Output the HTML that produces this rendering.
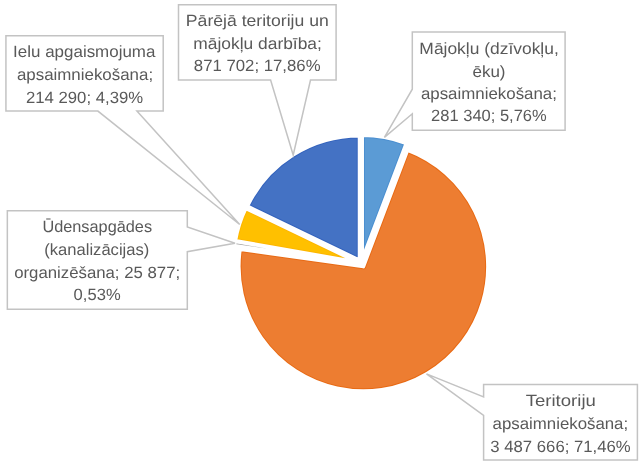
<!DOCTYPE html>
<html><head><meta charset="utf-8"><style>
html,body{margin:0;padding:0;background:#fff;}
svg{display:block;will-change:transform;}
text{text-rendering:geometricPrecision;font-family:"Liberation Sans",sans-serif;font-size:16.3px;fill:#595959;}
</style></head><body>
<svg width="643" height="466" viewBox="0 0 643 466">
<defs><clipPath id="c0"><path d="M362.16,259.81 L362.16,135.21 A124.6,124.6 0 0 1 406.30,143.29 Z"/></clipPath><clipPath id="c1"><path d="M363.36,266.54 L407.51,150.02 A124.6,124.6 0 1 1 239.97,249.22 Z"/></clipPath><clipPath id="c2"><path d="M357.89,262.83 L234.50,245.51 A124.6,124.6 0 0 1 235.15,241.41 Z"/></clipPath><clipPath id="c3"><path d="M358.02,262.28 L235.28,240.86 A124.6,124.6 0 0 1 245.76,208.24 Z"/></clipPath><clipPath id="c4"><path d="M359.56,260.31 L247.29,206.26 A124.6,124.6 0 0 1 359.56,135.71 Z"/></clipPath></defs>
<rect width="643" height="466" fill="#fff"/>
<polygon points="178.5,4.8 336.1,4.8 336.1,80.1 310.5,80.1 293.2,155.0 270.6,80.1 178.5,80.1" fill="#fff"/>
<polygon points="5.93,35.8 163.2,35.8 163.2,111.1 136.9,111.1 239.7,224.5 97.9,111.1 5.93,111.1" fill="#fff"/>
<polygon points="412.3,31.9 565.1,31.9 565.1,130.2 412.3,130.2 412.3,113.8 384.4,137.4 412.3,89.2" fill="#fff"/>
<polygon points="7.34,210.7 187.3,210.7 187.3,227.0 235.0,243.3 187.3,251.7 187.3,309.3 7.34,309.3" fill="#fff"/>
<polygon points="483.6,384.6 637.4,384.6 637.4,460.0 483.6,460.0 483.6,415.5 426.5,373.9 483.6,396.9" fill="#fff"/>
<path d="M362.16,259.81 L362.16,135.21 A124.6,124.6 0 0 1 406.30,143.29 Z" fill="#5B9BD5"/>
<path d="M362.16,259.81 L362.16,135.21 A124.6,124.6 0 0 1 406.30,143.29 Z" fill="none" stroke="#4B8FD0" stroke-width="5.66" stroke-linejoin="round" clip-path="url(#c0)"/>
<path d="M362.16,259.81 L362.16,135.21 A124.6,124.6 0 0 1 406.30,143.29 Z" fill="none" stroke="#fff" stroke-width="3.66" stroke-linejoin="round"/>
<path d="M363.36,266.54 L407.51,150.02 A124.6,124.6 0 1 1 239.97,249.22 Z" fill="#ED7D31"/>
<path d="M363.36,266.54 L407.51,150.02 A124.6,124.6 0 1 1 239.97,249.22 Z" fill="none" stroke="#E86A14" stroke-width="5.66" stroke-linejoin="round" clip-path="url(#c1)"/>
<path d="M363.36,266.54 L407.51,150.02 A124.6,124.6 0 1 1 239.97,249.22 Z" fill="none" stroke="#fff" stroke-width="3.66" stroke-linejoin="round"/>
<path d="M357.89,262.83 L234.50,245.51 A124.6,124.6 0 0 1 235.15,241.41 Z" fill="#A5A5A5"/>
<path d="M357.89,262.83 L234.50,245.51 A124.6,124.6 0 0 1 235.15,241.41 Z" fill="none" stroke="#fff" stroke-width="3.2" stroke-linejoin="round"/>
<path d="M358.02,262.28 L235.28,240.86 A124.6,124.6 0 0 1 245.76,208.24 Z" fill="#FFC000"/>
<path d="M358.02,262.28 L235.28,240.86 A124.6,124.6 0 0 1 245.76,208.24 Z" fill="none" stroke="#FDB600" stroke-width="5.66" stroke-linejoin="round" clip-path="url(#c3)"/>
<path d="M358.02,262.28 L235.28,240.86 A124.6,124.6 0 0 1 245.76,208.24 Z" fill="none" stroke="#fff" stroke-width="3.66" stroke-linejoin="round"/>
<path d="M359.56,260.31 L247.29,206.26 A124.6,124.6 0 0 1 359.56,135.71 Z" fill="#4472C4"/>
<path d="M359.56,260.31 L247.29,206.26 A124.6,124.6 0 0 1 359.56,135.71 Z" fill="none" stroke="#3463BD" stroke-width="5.66" stroke-linejoin="round" clip-path="url(#c4)"/>
<path d="M359.56,260.31 L247.29,206.26 A124.6,124.6 0 0 1 359.56,135.71 Z" fill="none" stroke="#fff" stroke-width="3.66" stroke-linejoin="round"/>
<polygon points="178.5,4.8 336.1,4.8 336.1,80.1 310.5,80.1 293.2,155.0 270.6,80.1 178.5,80.1" fill="none" stroke="#C3C3C3" stroke-width="1.5" stroke-linejoin="miter" stroke-miterlimit="4"/>
<polygon points="5.93,35.8 163.2,35.8 163.2,111.1 136.9,111.1 239.7,224.5 97.9,111.1 5.93,111.1" fill="none" stroke="#C3C3C3" stroke-width="1.5" stroke-linejoin="miter" stroke-miterlimit="4"/>
<polygon points="412.3,31.9 565.1,31.9 565.1,130.2 412.3,130.2 412.3,113.8 384.4,137.4 412.3,89.2" fill="none" stroke="#C3C3C3" stroke-width="1.5" stroke-linejoin="miter" stroke-miterlimit="4"/>
<polygon points="7.34,210.7 187.3,210.7 187.3,227.0 235.0,243.3 187.3,251.7 187.3,309.3 7.34,309.3" fill="none" stroke="#C3C3C3" stroke-width="1.5" stroke-linejoin="miter" stroke-miterlimit="4"/>
<polygon points="483.6,384.6 637.4,384.6 637.4,460.0 483.6,460.0 483.6,415.5 426.5,373.9 483.6,396.9" fill="none" stroke="#C3C3C3" stroke-width="1.5" stroke-linejoin="miter" stroke-miterlimit="4"/>
<text x="185.88" y="25.6" textLength="142.9" lengthAdjust="spacingAndGlyphs">Pārējā teritoriju un</text>
<text x="193.34" y="48.6" textLength="128.5" lengthAdjust="spacingAndGlyphs">mājokļu darbība;</text>
<text x="193.85" y="71.4" textLength="126.7" lengthAdjust="spacingAndGlyphs">871 702; 17,86%</text>
<text x="13.13" y="56.8" textLength="142.3" lengthAdjust="spacingAndGlyphs">Ielu apgaismojuma</text>
<text x="16.92" y="79.8" textLength="136.2" lengthAdjust="spacingAndGlyphs">apsaimniekošana;</text>
<text x="25.94" y="102.7" textLength="117.2" lengthAdjust="spacingAndGlyphs">214 290; 4,39%</text>
<text x="419.38" y="53.7" textLength="139.4" lengthAdjust="spacingAndGlyphs">Mājokļu (dzīvokļu,</text>
<text x="472.44" y="76.5" textLength="33.1" lengthAdjust="spacingAndGlyphs">ēku)</text>
<text x="420.93" y="99.2" textLength="136.0" lengthAdjust="spacingAndGlyphs">apsaimniekošana;</text>
<text x="431.14" y="121.0" textLength="115.6" lengthAdjust="spacingAndGlyphs">281 340; 5,76%</text>
<text x="42.4" y="232.0" textLength="109.7" lengthAdjust="spacingAndGlyphs">Ūdensapgādes</text>
<text x="44.3" y="254.9" textLength="105.0" lengthAdjust="spacingAndGlyphs">(kanalizācijas)</text>
<text x="14.17" y="277.9" textLength="166.0" lengthAdjust="spacingAndGlyphs">organizēšana; 25 877;</text>
<text x="73.64" y="300.2" textLength="47.0" lengthAdjust="spacingAndGlyphs">0,53%</text>
<text x="525.69" y="405.9" textLength="70.2" lengthAdjust="spacingAndGlyphs">Teritoriju</text>
<text x="492.57" y="428.5" textLength="135.6" lengthAdjust="spacingAndGlyphs">apsaimniekošana;</text>
<text x="490.35" y="451.9" textLength="140.3" lengthAdjust="spacingAndGlyphs">3 487 666; 71,46%</text>
</svg>
</body></html>
